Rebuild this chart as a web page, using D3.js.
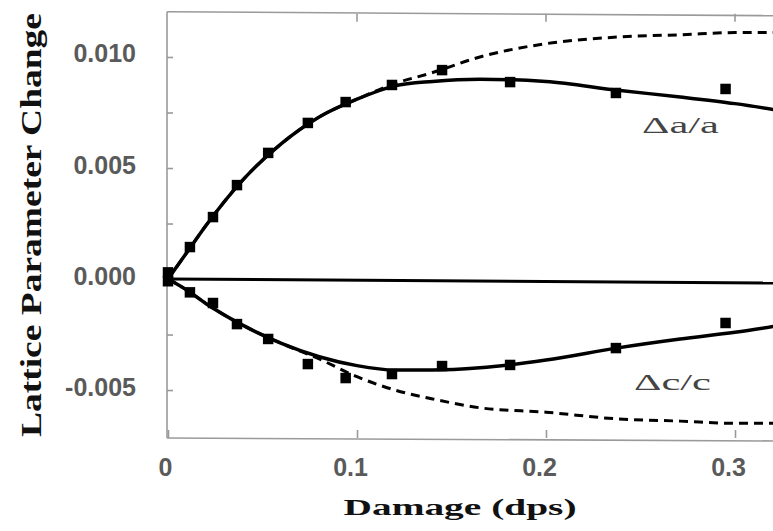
<!DOCTYPE html>
<html>
<head>
<meta charset="utf-8">
<script src="https://cdn.jsdelivr.net/npm/d3@7"></script>
<style>
  body { margin: 0; background: #fff; }
  svg { display: block; }
</style>
</head>
<body>
<div id="pane"></div>
<script>
// measured points (damage in dpa, lattice parameter change)
const damage = [0, 0.0116, 0.0238, 0.0365, 0.053, 0.074, 0.094, 0.1185, 0.145, 0.181, 0.237, 0.295];
const deltaA = [0.0003, 0.00144, 0.00279, 0.00423, 0.00568, 0.00703, 0.00797, 0.00874, 0.00941, 0.00887, 0.00838, 0.00856];
const deltaC = [-0.0001, -0.0006, -0.00108, -0.00203, -0.0027, -0.00383, -0.00446, -0.00428, -0.00392, -0.00387, -0.00311, -0.00198];

// fitted curves
const fitX = [0, 0.01, 0.02, 0.04, 0.06, 0.08, 0.10, 0.12, 0.14, 0.165, 0.20, 0.238, 0.271, 0.30, 0.33];
const fitA = [0, 0.0012, 0.0024, 0.0045, 0.0061, 0.0073, 0.0081, 0.0087, 0.0089, 0.0090, 0.0089, 0.0085, 0.0082, 0.0079, 0.0075];
const dashA = [0, 0.0012, 0.0024, 0.0045, 0.0061, 0.0073, 0.0081, 0.0088, 0.0093, 0.0100, 0.0106, 0.0109, 0.0110, 0.0111, 0.0111];
const fitC = [0, -0.0005, -0.0011, -0.0021, -0.0029, -0.0035, -0.0039, -0.0041, -0.0041, -0.0040, -0.00365, -0.0031, -0.0027, -0.0024, -0.0020];
const dashC = [0, -0.0005, -0.0011, -0.0021, -0.0029, -0.0036, -0.0044, -0.0050, -0.0054, -0.0058, -0.0060, -0.0063, -0.0064, -0.0065, -0.0065];

const xTicks = [0, 0.1, 0.2, 0.3];
const xTickLabels = ["0", "0.1", "0.2", "0.3"];
const yTicks = [-0.005, -0.0025, 0, 0.0025, 0.005, 0.0075, 0.01];
const yTickLabels = { "-0.005": "-0.005", "0": "0.000", "0.005": "0.005", "0.01": "0.010" };

const width = 773, height = 531;

const x = d3.scaleLinear().domain([0, 0.33]).range([168, 168 + 0.33 * 1890]);
const y = d3.scaleLinear().domain([-0.00716, 0.01204]).range([438, 11.7]);

const svg = d3.select("#pane")
  .append("svg")
  .attr("width", width)
  .attr("height", height);

// frame (right side runs off the picture)
const frame = svg.append("g")
  .attr("stroke", "#9a9a9a")
  .attr("stroke-width", 1.6)
  .attr("fill", "none");
frame.append("line").attr("x1", x(0) - 1).attr("x2", x(0) - 1).attr("y1", y.range()[1]).attr("y2", y.range()[0]);
frame.append("line").attr("x1", x(0) - 1).attr("x2", width + 5).attr("y1", y.range()[1]).attr("y2", y.range()[1] + 4);
frame.append("line").attr("x1", x(0) - 1).attr("x2", width + 5).attr("y1", y.range()[0]).attr("y2", y.range()[0] + 3);

// y axis with inward ticks
const yAxis = d3.axisLeft(y)
  .tickValues(yTicks)
  .tickSize(-6)
  .tickPadding(31)
  .tickFormat(d => yTickLabels[String(d)] || "");
const gy = svg.append("g")
  .attr("transform", `translate(${x(0) - 1},0)`)
  .call(yAxis);
gy.select(".domain").remove();
gy.selectAll(".tick line").attr("stroke", "#9a9a9a").attr("stroke-width", 1.6);
gy.selectAll(".tick text")
  .attr("font-family", "Liberation Sans, Arial, sans-serif")
  .attr("font-size", 25)
  .attr("font-weight", "bold")
  .attr("fill", "#5a5a5a")
  .attr("dy", "0.2em");

// x axis with inward ticks
const xAxis = d3.axisBottom(x)
  .tickValues(xTicks)
  .tickSize(-8)
  .tickPadding(20)
  .tickFormat((d, i) => xTickLabels[i]);
const gx = svg.append("g")
  .attr("transform", `translate(0,${y.range()[0]})`)
  .call(xAxis);
gx.select(".domain").remove();
gx.selectAll(".tick line").attr("stroke", "#9a9a9a").attr("stroke-width", 1.6);
gx.selectAll(".tick text")
  .attr("font-family", "Liberation Sans, Arial, sans-serif")
  .attr("font-size", 25)
  .attr("font-weight", "bold")
  .attr("fill", "#5a5a5a")
  .attr("dx", (d, i) => i === 0 ? -3 : -7);

// top ticks
svg.append("g")
  .selectAll("line")
  .data(xTicks.slice(1))
  .join("line")
  .attr("x1", d => x(d)).attr("x2", d => x(d))
  .attr("y1", y.range()[1] + 2).attr("y2", y.range()[1] + 10)
  .attr("stroke", "#9a9a9a").attr("stroke-width", 1.6);

// zero line
svg.append("line")
  .attr("x1", x(0)).attr("x2", width + 5)
  .attr("y1", y(0)).attr("y2", y(0) + 4)
  .attr("stroke", "#000")
  .attr("stroke-width", 3);

const line = d3.line()
  .x(d => x(d[0]))
  .y(d => y(d[1]))
  .curve(d3.curveMonotoneX);

const curves = [
  { vals: dashA, dash: "9,6" },
  { vals: dashC, dash: "9,6" },
  { vals: fitA, dash: null },
  { vals: fitC, dash: null }
];
svg.append("g")
  .selectAll("path")
  .data(curves)
  .join("path")
  .attr("d", d => line(fitX.map((v, i) => [v, d.vals[i]])))
  .attr("fill", "none")
  .attr("stroke", "#000")
  .attr("stroke-width", d => d.dash ? 3 : 3.5)
  .attr("stroke-dasharray", d => d.dash);

// data markers
const sym = d3.symbol().type(d3.symbolSquare).size(110);
const pts = damage.map((v, i) => [v, deltaA[i]]).concat(damage.map((v, i) => [v, deltaC[i]]));
svg.append("g")
  .selectAll("path")
  .data(pts)
  .join("path")
  .attr("d", sym)
  .attr("transform", d => `translate(${x(d[0])},${y(d[1])})`)
  .attr("fill", "#000");

// series labels
svg.append("text")
  .attr("x", 642).attr("y", 133)
  .attr("textLength", 77).attr("lengthAdjust", "spacingAndGlyphs")
  .attr("font-family", "Liberation Serif, Times New Roman, serif")
  .attr("font-size", 24)
  .attr("fill", "#444")
  .text("\u0394a/a");
svg.append("text")
  .attr("x", 634).attr("y", 390)
  .attr("textLength", 77).attr("lengthAdjust", "spacingAndGlyphs")
  .attr("font-family", "Liberation Serif, Times New Roman, serif")
  .attr("font-size", 24)
  .attr("fill", "#444")
  .text("\u0394c/c");

// axis titles
svg.append("text")
  .attr("transform", "translate(41,225) rotate(-90)")
  .attr("text-anchor", "middle")
  .attr("textLength", 424).attr("lengthAdjust", "spacingAndGlyphs")
  .attr("font-family", "Liberation Serif, Times New Roman, serif")
  .attr("font-weight", "bold")
  .attr("font-size", 30)
  .attr("fill", "#111")
  .text("Lattice Parameter Change");

svg.append("text")
  .attr("x", 460).attr("y", 515)
  .attr("text-anchor", "middle")
  .attr("textLength", 233).attr("lengthAdjust", "spacingAndGlyphs")
  .attr("font-family", "Liberation Serif, Times New Roman, serif")
  .attr("font-weight", "bold")
  .attr("font-size", 24)
  .attr("fill", "#111")
  .text("Damage (dps)");
</script>
</body>
</html>
